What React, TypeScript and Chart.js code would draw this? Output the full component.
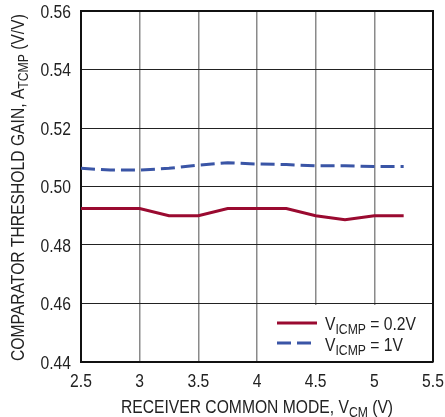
import React, { useEffect, useRef } from "react";
import { Chart, registerables } from "chart.js";

Chart.register(...registerables);

const xValues = [2.5, 2.75, 3.0, 3.25, 3.5, 3.75, 4.0, 4.25, 4.5, 4.75, 5.0, 5.25];
const series02 = [0.4925, 0.4925, 0.4925, 0.49, 0.49, 0.4925, 0.4925, 0.4925, 0.49, 0.4886, 0.49, 0.49];
const series1 = [0.5062, 0.5056, 0.5056, 0.5062, 0.5073, 0.5081, 0.5077, 0.5075, 0.5071, 0.5071, 0.5068, 0.5068];
const xTickLabels = ["2.5", "3", "3.5", "4", "4.5", "5", "5.5"];
const yTickLabels = ["0.44", "0.46", "0.48", "0.50", "0.52", "0.54", "0.56"];

const RED = "#9a0a30";
const BLUE = "#3a55a6";
const FONT = "'Liberation Sans', Arial, sans-serif";
const SX = 0.87;

type Seg = { t: string; sub?: boolean };

function segWidth(ctx: CanvasRenderingContext2D, segs: Seg[], size: number, subSize: number) {
  let w = 0;
  segs.forEach((s) => {
    ctx.font = `${s.sub ? subSize : size}px ${FONT}`;
    w += ctx.measureText(s.t).width;
  });
  return w * SX;
}

// draws text horizontally condensed; align: left / center / right
function drawSegs(ctx: CanvasRenderingContext2D, segs: Seg[], x: number, y: number, size: number, subSize: number, align: "left" | "center" | "right") {
  const total = segWidth(ctx, segs, size, subSize);
  const start = align === "center" ? x - total / 2 : align === "right" ? x - total : x;
  ctx.save();
  ctx.translate(start, y);
  ctx.scale(SX, 1);
  ctx.textBaseline = "alphabetic";
  ctx.textAlign = "left";
  let cx = 0;
  segs.forEach((s) => {
    ctx.font = `${s.sub ? subSize : size}px ${FONT}`;
    ctx.fillText(s.t, cx, s.sub ? 4 : 0);
    cx += ctx.measureText(s.t).width;
  });
  ctx.restore();
}

const decorPlugin = {
  id: "decor",
  afterDraw(chart: any) {
    const ctx: CanvasRenderingContext2D = chart.ctx;
    const a = chart.chartArea;
    const xs = chart.scales.x;
    const ys = chart.scales.y;
    ctx.save();
    ctx.fillStyle = "#222";
    // tick labels
    xTickLabels.forEach((lab) => {
      const px = xs.getPixelForValue(parseFloat(lab));
      drawSegs(ctx, [{ t: lab }], px, a.bottom + 25, 18, 14, "center");
    });
    yTickLabels.forEach((lab) => {
      const py = ys.getPixelForValue(parseFloat(lab));
      drawSegs(ctx, [{ t: lab }], a.left - 10, py + 6.5, 18, 14, "right");
    });
    // x title
    drawSegs(ctx, [{ t: "RECEIVER COMMON MODE, V" }, { t: "CM", sub: true }, { t: " (V)" }], (a.left + a.right) / 2, 413, 18, 14, "center");
    // y title
    ctx.save();
    ctx.translate(24, 361);
    ctx.rotate(-Math.PI / 2);
    drawSegs(ctx, [{ t: "COMPARATOR THRESHOLD GAIN, A" }, { t: "TCMP", sub: true }, { t: " (V/V)" }], 0, 0, 18, 14, "left");
    ctx.restore();
    // legend box
    const top = ys.getPixelForValue(0.46) + 1.5;
    ctx.fillStyle = "#ffffff";
    ctx.fillRect(268, top, a.right - 1 - 268, a.bottom - 1 - top);
    ctx.lineWidth = 3;
    ctx.strokeStyle = RED;
    ctx.setLineDash([]);
    ctx.beginPath();
    ctx.moveTo(277, 323);
    ctx.lineTo(317, 323);
    ctx.stroke();
    ctx.strokeStyle = BLUE;
    ctx.setLineDash([14, 6]);
    ctx.beginPath();
    ctx.moveTo(277, 343);
    ctx.lineTo(317, 343);
    ctx.stroke();
    ctx.setLineDash([]);
    ctx.fillStyle = "#222";
    drawSegs(ctx, [{ t: "V" }, { t: "ICMP", sub: true }, { t: " = 0.2V" }], 325, 330, 18, 14, "left");
    drawSegs(ctx, [{ t: "V" }, { t: "ICMP", sub: true }, { t: " = 1V" }], 325, 351, 18, 14, "left");
    ctx.restore();
  },
};

export default function App() {
  const ref = useRef<HTMLCanvasElement | null>(null);
  useEffect(() => {
    document.body.style.margin = "0";
    const chart = new Chart(ref.current as HTMLCanvasElement, {
      type: "line",
      data: {
        datasets: [
          {
            label: "VICMP = 0.2V",
            data: xValues.map((x, i) => ({ x, y: series02[i] })),
            borderColor: RED,
            borderWidth: 3,
            pointRadius: 0,
            tension: 0,
            fill: false,
          },
          {
            label: "VICMP = 1V",
            data: xValues.map((x, i) => ({ x, y: series1[i] })),
            borderColor: BLUE,
            borderWidth: 3,
            borderDash: [14, 6],
            pointRadius: 0,
            tension: 0,
            fill: false,
          },
        ],
      },
      options: {
        responsive: false,
        animation: false,
        layout: { padding: { left: 0, right: 12, top: 11, bottom: 0 } },
        plugins: { legend: { display: false }, tooltip: { enabled: false } },
        scales: {
          x: {
            type: "linear",
            min: 2.5,
            max: 5.5,
            afterFit: (s: any) => {
              s.height = 55;
            },
            ticks: { stepSize: 0.5, display: false },
            grid: { color: "#8a8a8a", lineWidth: 1.5, drawTicks: false },
            border: { color: "#111", width: 2 },
          },
          y: {
            type: "linear",
            min: 0.44,
            max: 0.56,
            afterFit: (s: any) => {
              s.width = 81;
            },
            ticks: { stepSize: 0.02, display: false },
            grid: { color: "#222", lineWidth: 1, drawTicks: false },
            border: { color: "#111", width: 2 },
          },
        },
      },
      plugins: [
        decorPlugin,
        {
          id: "rightTopBorder",
          beforeDatasetsDraw(chart: any) {
            const c = chart.ctx;
            const a = chart.chartArea;
            c.save();
            c.strokeStyle = "#111";
            c.lineWidth = 2;
            c.beginPath();
            c.moveTo(a.left, a.top);
            c.lineTo(a.right, a.top);
            c.lineTo(a.right, a.bottom);
            c.stroke();
            c.restore();
          },
        },
      ],
    } as any);
    return () => chart.destroy();
  }, []);
  return (
    <div style={{ width: 445, height: 417 }}>
      <canvas ref={ref} width={445} height={417} />
    </div>
  );
}
